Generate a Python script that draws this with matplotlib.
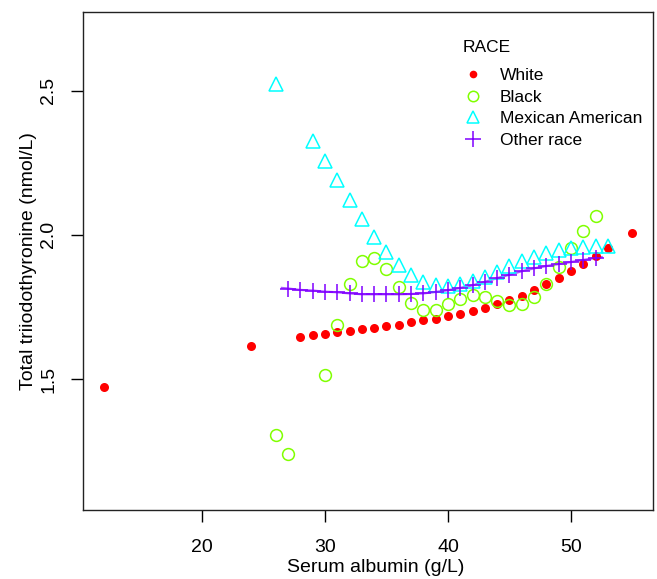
import numpy as np
import matplotlib
matplotlib.use("Agg")
import matplotlib.pyplot as plt
from matplotlib.lines import Line2D

plt.rcParams['font.family'] = ['Liberation Sans', 'DejaVu Sans']

# serum albumin (g/L) vs total T3 (nmol/L), by race
white_x = [12, 24] + list(range(28, 54)) + [55]
white_y = [1.471, 1.616, 1.647, 1.653, 1.657, 1.663, 1.668, 1.673, 1.677, 1.683,
           1.689, 1.696, 1.703, 1.709, 1.719, 1.727, 1.736, 1.745, 1.760, 1.773,
           1.789, 1.808, 1.829, 1.851, 1.875, 1.899, 1.926, 1.955, 2.007]

black_x = [26, 27] + list(range(30, 53))
black_y = [1.307, 1.240, 1.514, 1.688, 1.829, 1.911, 1.921, 1.883, 1.820, 1.765,
           1.738, 1.740, 1.759, 1.779, 1.790, 1.786, 1.772, 1.758, 1.760, 1.786,
           1.830, 1.888, 1.953, 2.014, 2.066]

mex_x = [26] + list(range(29, 54))
mex_y = [2.524, 2.325, 2.258, 2.189, 2.122, 2.054, 1.994, 1.942, 1.895, 1.860,
         1.837, 1.825, 1.823, 1.829, 1.839, 1.854, 1.873, 1.891, 1.909, 1.925,
         1.936, 1.947, 1.954, 1.958, 1.962, 1.963]

other_x = list(range(27, 53))
other_y = [1.814, 1.809, 1.807, 1.803, 1.801, 1.797, 1.794, 1.794, 1.794, 1.794,
           1.795, 1.797, 1.802, 1.808, 1.816, 1.825, 1.837, 1.850, 1.862, 1.874,
           1.884, 1.892, 1.899, 1.906, 1.913, 1.920]
# the fitted line runs a little past the first and last point
other_line_x = [26.5] + other_x + [52.5]
other_line_y = [1.816] + other_y + [1.923]

labels = ["White", "Black", "Mexican American", "Other race"]
colors = ["#FF0000", "#80FF00", "#00FFFF", "#8000FF"]

fig = plt.figure(figsize=(6.57, 5.79), dpi=100)
ax = fig.add_axes([83/657, 1-510/579, 570/657, 498/579])

ax.plot(other_line_x, other_line_y, color=colors[3], lw=1.6, alpha=0.65, zorder=2)
ax.plot(white_x, white_y, 'o', ms=6.5, color=colors[0], mec='none', zorder=3)
ax.plot(black_x, black_y, 'o', ms=8.5, mfc='none', mec=colors[1], mew=1.1, zorder=3)
ax.plot(mex_x, mex_y, '^', ms=9.5, mfc='none', mec=colors[2], mew=1.1, zorder=3)
ax.plot(other_x, other_y, '+', ms=12, mec=colors[3], mew=1.1, zorder=4)

ax.set_xlim(10.33, 56.67)
ax.set_ylim(1.045, 2.774)
ax.set_xticks([20, 30, 40, 50])
ax.set_yticks([1.5, 2.0, 2.5])
ax.set_yticklabels(["1.5", "2.0", "2.5"], rotation=90, va='center')
ax.tick_params(axis='both', length=8.6, width=1, labelsize=14, direction='out')
ax.tick_params(axis='x', pad=12)
ax.tick_params(axis='y', pad=10)
for s in ax.spines.values():
    s.set_linewidth(1)
    s.set_color('#222222')

ax.set_xlabel("Serum albumin (g/L)", fontsize=14, labelpad=2.4)
ax.xaxis.label.set_x(0.513)
ax.set_ylabel("Total triiodothyronine (nmol/L)", fontsize=14, labelpad=2)

handles = [
    Line2D([], [], ls='none', marker='o', ms=5.5, color=colors[0], mec='none'),
    Line2D([], [], ls='none', marker='o', ms=7.5, mfc='none', mec=colors[1], mew=1.1),
    Line2D([], [], ls='none', marker='^', ms=8.5, mfc='none', mec=colors[2], mew=1.1),
    Line2D([], [], ls='none', marker='+', ms=11, mec=colors[3], mew=1.1),
]
leg = ax.legend(handles, labels, loc='upper left',
                bbox_to_anchor=(462.6/657, 1-68.3/579), bbox_transform=fig.transFigure,
                frameon=False, fontsize=12.5, borderaxespad=0,
                handlelength=1.2, handletextpad=0.95, labelspacing=0.36,
                borderpad=0)
fig.text(463/657, 1-51.7/579, "RACE", fontsize=12.5, ha='left', va='baseline')

fig.savefig("out.png", dpi=100)
